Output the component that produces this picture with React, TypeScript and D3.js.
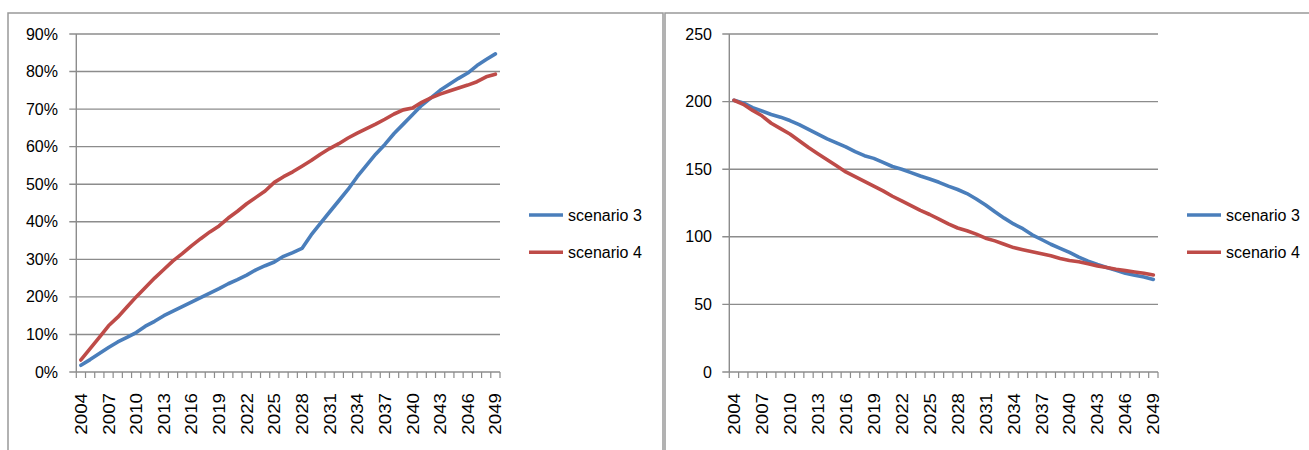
import React from "react";
import * as d3 from "d3";

const years: string[] = d3.range(2004, 2050).map(String);
const labelYears: string[] = d3.range(2004, 2050, 3).map(String);

const seriesNames: string[] = ["scenario 3", "scenario 4"];
const seriesColors: string[] = ["#4a7ebb", "#be4b48"];

// Left chart (percent)
const leftScen3: number[] = [
  1.8, 3.3, 4.9, 6.5, 8.0, 9.2, 10.5, 12.2, 13.5, 15.0,
  16.2, 17.4, 18.6, 19.8, 21.0, 22.2, 23.5, 24.6, 25.8, 27.2,
  28.3, 29.3, 30.8, 31.8, 32.9, 36.5, 39.6, 42.6, 45.6, 48.6,
  52.0, 55.0, 58.0, 60.6, 63.5, 66.0, 68.5, 71.0, 73.0, 75.0,
  76.6, 78.2, 79.6, 81.6, 83.2, 84.7,
];
const leftScen4: number[] = [
  3.2, 6.2, 9.2, 12.3, 14.6, 17.3, 20.0, 22.5, 25.0, 27.3,
  29.6, 31.5, 33.6, 35.5, 37.3, 38.9, 41.0, 42.8, 44.8, 46.5,
  48.2, 50.5, 52.0, 53.3, 54.8, 56.3, 58.0, 59.5, 60.8, 62.3,
  63.6, 64.8, 66.0, 67.3, 68.7, 69.8, 70.3, 71.8, 73.0, 74.0,
  74.8, 75.6, 76.4, 77.3, 78.6, 79.3,
];
const leftTicks: number[] = [0, 10, 20, 30, 40, 50, 60, 70, 80, 90];

// Right chart (index)
const rightScen3: number[] = [
  201, 199, 195.5, 193, 190.5, 188.5, 186, 183, 179.5, 176,
  172.5, 169.5, 166.5, 163, 160, 158, 155, 152, 150, 147.5,
  145, 142.8, 140.3, 137.5, 135, 132, 128, 123.5, 118.5, 113.8,
  109.5, 106, 101.5, 98, 94.5, 91.5, 88.5, 85, 82, 79.5,
  77.3, 75.3, 73, 71.5, 70.3, 68.5,
];
const rightScen4: number[] = [
  201, 198, 193.5, 189.5, 184, 180, 176, 171, 166, 161.5,
  157, 152.5, 148, 144.5, 141, 137.5, 134, 130, 126.5, 123,
  119.5, 116.5, 113, 109.5, 106.5, 104.5, 102, 99, 97, 94.5,
  92, 90.5, 89, 87.5, 86, 84, 82.5, 81.5, 80, 78.5,
  77.3, 76, 75, 74, 73, 71.8,
];
const rightTicks: number[] = [0, 50, 100, 150, 200, 250];

const FONT = "'Liberation Sans', Arial, sans-serif";
const GRID = "#8c8c8c";

type PanelProps = {
  x0: number;
  x1: number;
  yTop: number;
  yBottom: number;
  yMax: number;
  ticks: number[];
  fmt: (v: number) => string;
  labelRight: number;
  series: number[][];
  legendX: number;
};

function Panel(p: PanelProps) {
  const x = d3.scaleBand<string>().domain(years).range([p.x0, p.x1]).padding(0);
  const bw = x.bandwidth();
  const cx = (yr: string) => (x(yr) as number) + bw / 2;
  const y = d3.scaleLinear().domain([0, p.yMax]).range([p.yBottom, p.yTop]);
  const line = d3
    .line<number>()
    .x((_, i) => cx(years[i]))
    .y((d) => y(d));
  const boundaries = d3.range(0, years.length + 1).map((i) => p.x0 + i * bw);
  return (
    <g>
      {p.ticks.map((t) => (
        <g key={t}>
          <line x1={p.x0 - 7} x2={p.x1} y1={y(t)} y2={y(t)} stroke={GRID} strokeWidth={1.4} />
          <text
            x={p.labelRight}
            y={y(t)}
            textAnchor="end"
            dominantBaseline="central"
            fontFamily={FONT}
            fontSize={16}
            fill="#000"
          >
            {p.fmt(t)}
          </text>
        </g>
      ))}
      <line x1={p.x0} x2={p.x0} y1={p.yTop} y2={p.yBottom} stroke={GRID} strokeWidth={1.4} />
      {boundaries.map((bx, i) => (
        <line key={i} x1={bx} x2={bx} y1={p.yBottom} y2={p.yBottom + 6} stroke={GRID} strokeWidth={1.2} />
      ))}
      {labelYears.map((yr) => (
        <text
          key={yr}
          transform={`translate(${cx(yr) + 0.5},${p.yBottom + 21}) rotate(-90) scale(1.17,1)`}
          textAnchor="end"
          dominantBaseline="central"
          fontFamily={FONT}
          fontSize={16}
          fill="#000"
        >
          {yr}
        </text>
      ))}
      {p.series.map((s, k) => (
        <path
          key={k}
          d={line(s) as string}
          fill="none"
          stroke={seriesColors[k]}
          strokeWidth={3.6}
          strokeLinejoin="round"
          strokeLinecap="round"
        />
      ))}
      {seriesNames.map((n, k) => (
        <g key={n}>
          <line
            x1={p.legendX}
            x2={p.legendX + 34}
            y1={215 + k * 37.3}
            y2={215 + k * 37.3}
            stroke={seriesColors[k]}
            strokeWidth={3.6}
          />
          <text
            x={p.legendX + 39}
            y={215 + k * 37.3}
            dominantBaseline="central"
            fontFamily={FONT}
            fontSize={16}
            fill="#000"
          >
            {n}
          </text>
        </g>
      ))}
    </g>
  );
}

export default function App() {
  return (
    <svg
      width={1309}
      height={450}
      style={{ position: "absolute", left: 0, top: 0, background: "#fff" }}
    >
      <rect x={0} y={0} width={1309} height={450} fill="#fff" />
      <rect x={8} y={13} width={655} height={460} fill="none" stroke="#999" strokeWidth={1.5} />
      <rect x={665} y={13} width={700} height={460} fill="none" stroke="#999" strokeWidth={1.5} />
      <Panel
        x0={76.3}
        x1={500}
        yTop={34}
        yBottom={372}
        yMax={90}
        ticks={leftTicks}
        fmt={(v) => `${v}%`}
        labelRight={58}
        series={[leftScen3, leftScen4]}
        legendX={529}
      />
      <Panel
        x0={729.3}
        x1={1158}
        yTop={34}
        yBottom={372}
        yMax={250}
        ticks={rightTicks}
        fmt={(v) => `${v}`}
        labelRight={712}
        series={[rightScen3, rightScen4]}
        legendX={1187}
      />
    </svg>
  );
}
